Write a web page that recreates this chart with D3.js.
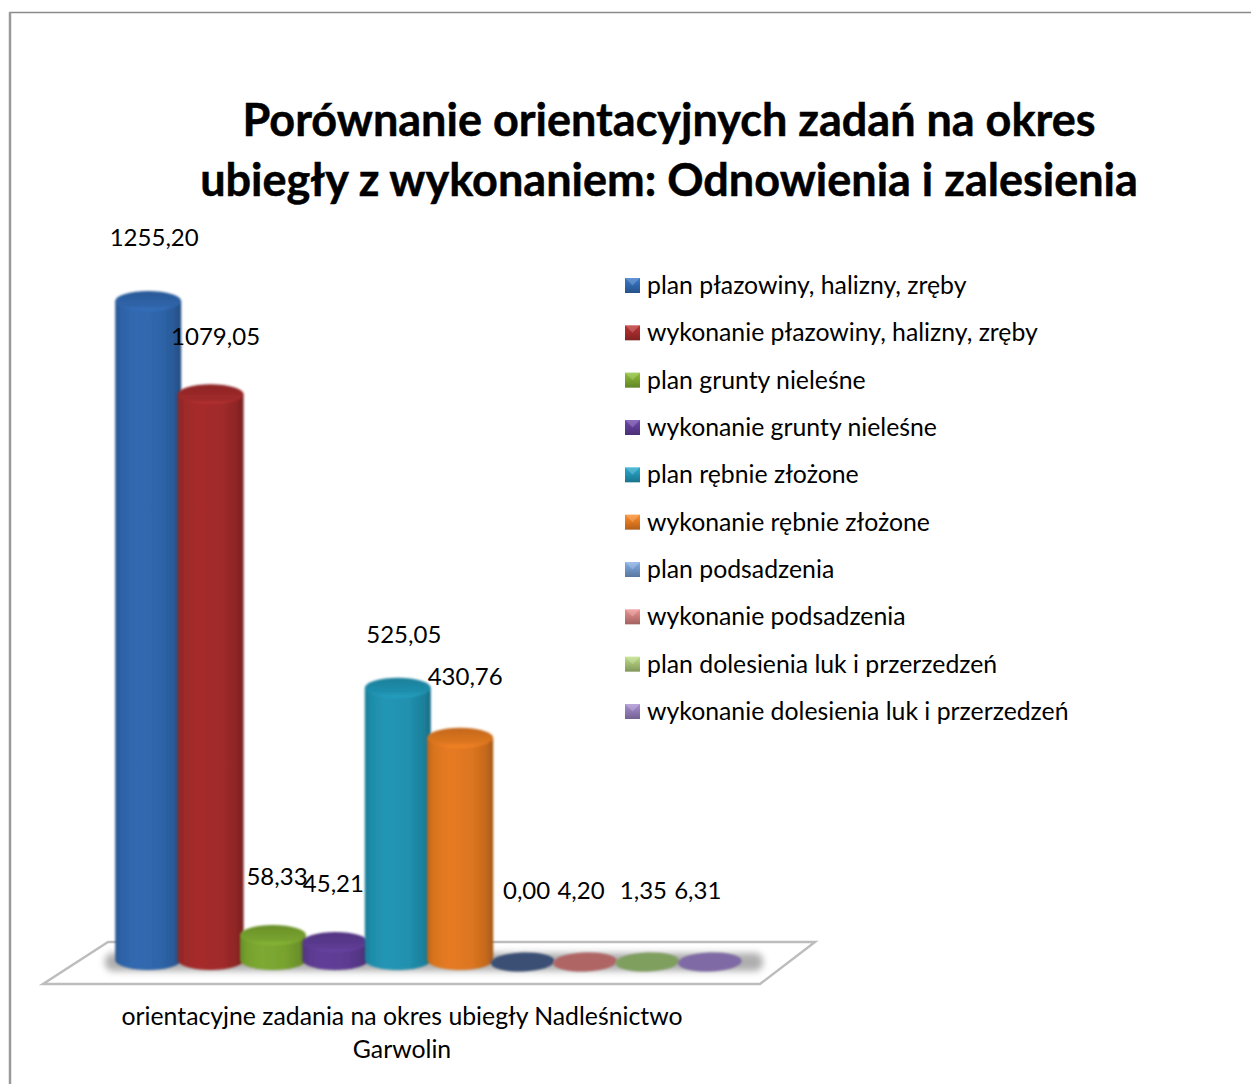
<!DOCTYPE html>
<html><head><meta charset="utf-8">
<script src="https://cdn.jsdelivr.net/npm/d3@7/dist/d3.min.js"></script>
<style>html,body{margin:0;padding:0;background:#fff}svg{display:block}text{font-family:Lato,"Open Sans",sans-serif;fill:#000}</style>
</head><body><div id="c"></div>
<script>
const seriesNames=["plan płazowiny, halizny, zręby","wykonanie płazowiny, halizny, zręby","plan grunty nieleśne","wykonanie grunty nieleśne","plan rębnie złożone","wykonanie rębnie złożone","plan podsadzenia","wykonanie podsadzenia","plan dolesienia luk i przerzedzeń","wykonanie dolesienia luk i przerzedzeń"];
const values=[1255.20,1079.05,58.33,45.21,525.05,430.76,0.00,4.20,1.35,6.31];
const colors=["#2f65aa","#a02a2a","#78a32f","#5d3b92","#2090ae","#dd7620","#3a5074","#b06565","#7f9f5f","#7f6aa5"];
const legendColors=["#2f65aa","#a02a2a","#78a32f","#5d3b92","#2090ae","#dd7620","#6f93c4","#c87a78","#a0bb70","#8f79b3"];
const titleLines=["Porównanie orientacyjnych zadań na okres","ubiegły z wykonaniem: Odnowienia i zalesienia"];
const axisLines=["orientacyjne zadania na okres ubiegły Nadleśnictwo","Garwolin"];

const W=1251,H=1084;
const svg=d3.select("#c").append("svg").attr("width",W).attr("height",H);
const defs=svg.append("defs");
const fmt=v=>v.toFixed(2).replace(".",",");
const x=d3.scaleBand().domain(d3.range(values.length)).range([117,741]);
const y=d3.scaleLinear().domain([0,1255.2]).range([966,301]);
const rx=33,ry=10,baseY=y(0)-6;

// frame
svg.append("path").attr("d",`M10,${H}V12.5H${W}`).attr("fill","none").attr("stroke","#8a8a8a").attr("stroke-width",1.5);
svg.append("line").attr("x1",10).attr("x2",10).attr("y1",12).attr("y2",H).attr("stroke","#9a9a9a").attr("stroke-width",2.5);

// gradients
colors.forEach((c,i)=>{
  const col=d3.color(c);
  const g=defs.append("linearGradient").attr("id","g"+i);
  [[0,col.darker(.4)],[.1,col.darker(.05)],[.32,col.brighter(.12)],[.68,col],[.9,col.darker(.35)],[1,col.darker(.85)]].forEach(s=>g.append("stop").attr("offset",s[0]).attr("stop-color",s[1]));
  const t=defs.append("linearGradient").attr("id","t"+i).attr("x1",0).attr("y1",0).attr("x2",0).attr("y2",1);
  [[0,col.darker(.35)],[.75,col],[1,col.brighter(.35)]].forEach(s=>t.append("stop").attr("offset",s[0]).attr("stop-color",s[1]));
});
legendColors.forEach((c,i)=>{
  const col=d3.color(c);
  const l=defs.append("linearGradient").attr("id","l"+i).attr("x1",0).attr("y1",0).attr("x2",0).attr("y2",1);
  [[0,col.brighter(.5)],[.5,col],[1,col.darker(.6)]].forEach(s=>l.append("stop").attr("offset",s[0]).attr("stop-color",s[1]));
});
defs.append("filter").attr("id","blur").attr("x","-20%").attr("y","-100%").attr("width","140%").attr("height","300%").append("feGaussianBlur").attr("stdDeviation",3.5);
defs.append("filter").attr("id","soft").append("feGaussianBlur").attr("stdDeviation",.8);

// floor
svg.append("path").attr("d","M43,984L108,942H815L760,984Z").attr("fill","#fff").attr("stroke","#bdbdbd").attr("stroke-width",2.5);
svg.append("rect").attr("x",x(0)-12).attr("y",953).attr("width",x.step()*10+34).attr("height",18).attr("rx",8).attr("fill","#9a9a9a").attr("opacity",.8).attr("filter","url(#blur)");

// cylinders
const cyl=svg.append("g").selectAll("g").data(values).join("g").attr("filter","url(#soft)");
cyl.each(function(v,i){
  const cx=x(i)+x.bandwidth()/2, g=d3.select(this), top=y(v);
  if(v<10){
    g.append("ellipse").attr("cx",cx).attr("cy",baseY+2).attr("rx",rx-1).attr("ry",9.5).attr("transform",`rotate(-2 ${cx} ${baseY+2})`).attr("fill",colors[i]);
    return;
  }
  g.append("path").attr("d",`M${cx-rx},${top}V${baseY}A${rx},${ry} 0 0 0 ${cx+rx},${baseY}V${top}Z`).attr("fill",`url(#g${i})`);
  g.append("ellipse").attr("cx",cx).attr("cy",top).attr("rx",rx).attr("ry",ry).attr("fill",`url(#t${i})`);
});

// title
svg.append("g").selectAll("text").data(titleLines).join("text")
 .attr("x",669).attr("y",(d,i)=>136+i*60).attr("text-anchor","middle")
 .attr("font-size",45).attr("font-weight",700).attr("stroke","#000").attr("stroke-width",.5).text(d=>d);

// data labels
const labelDx=[6,5,4,-2,6,5,4,-4,-4,-12], labelDy=[-55,-49,-50,-50,-45,-53,-67,-65,-66,-64];
svg.append("g").selectAll("text").data(values).join("text")
 .attr("x",(d,i)=>x(i)+x.bandwidth()/2+labelDx[i])
 .attr("y",(d,i)=>y(d)+labelDy[i]).attr("text-anchor","middle").attr("font-size",24).text(fmt);

// legend
const ly=d3.scalePoint().domain(d3.range(seriesNames.length)).range([285,711]);
const leg=svg.append("g").selectAll("g").data(seriesNames).join("g").attr("transform",(d,i)=>`translate(625,${ly(i)})`);
leg.append("rect").attr("y",-7).attr("width",15).attr("height",15).attr("fill",(d,i)=>`url(#l${i})`);
leg.append("path").attr("d","M0,-7L7.5,0.5L15,-7Z").attr("fill","#fff").attr("opacity",.2);
leg.append("text").attr("x",22).attr("y",9).attr("font-size",24.8).text(d=>d);

// axis label
svg.append("g").selectAll("text").data(axisLines).join("text")
 .attr("x",402).attr("y",(d,i)=>1025+i*33).attr("text-anchor","middle").attr("font-size",24.8).text(d=>d);
</script></body></html>
